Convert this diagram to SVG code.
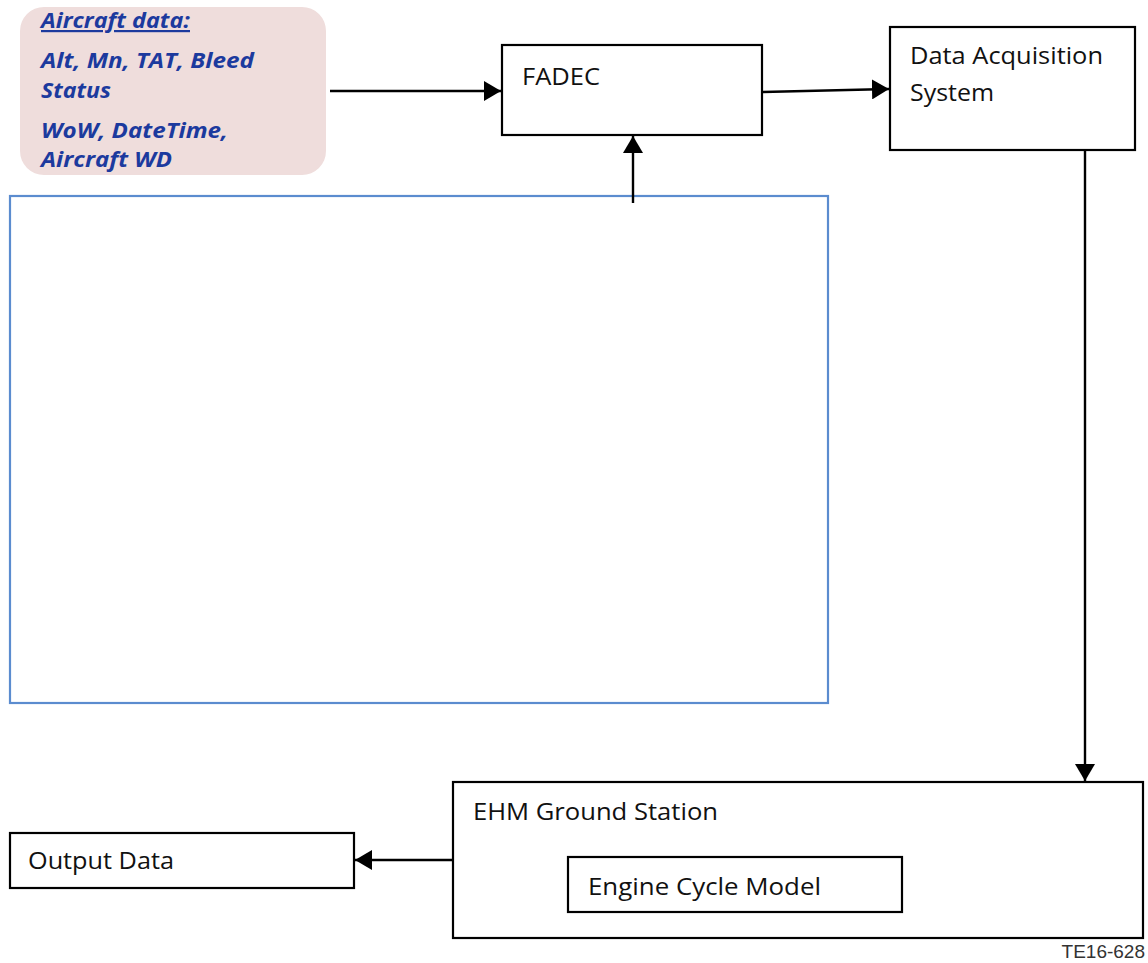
<svg xmlns="http://www.w3.org/2000/svg" width="1148" height="963" viewBox="0 0 1148 963">
  <style>
    .box { fill: #ffffff; stroke: #000000; stroke-width: 2.2; }
    .lbl { font-family: "Open Sans", "Liberation Sans", sans-serif; font-size: 24px; fill: #111111; }
    .ac { font-family: "Open Sans", "Liberation Sans", sans-serif; font-size: 22px; font-weight: bold; font-style: italic; fill: #1c3a9e; }
    .wire { fill: none; stroke: #000000; stroke-width: 2.4; }
  </style>
  <defs>
    <marker id="head" viewBox="0 0 17 20" refX="17" refY="10" markerWidth="17" markerHeight="20" markerUnits="userSpaceOnUse" orient="auto">
      <path d="M0,0 L17,10 L0,20 Z" fill="#000000"/>
    </marker>
  </defs>

  <rect width="1148" height="963" fill="#ffffff"/>

  <!-- aircraft inputs -->
  <g id="aircraft-data">
    <rect x="20" y="7" width="306" height="168" rx="24" ry="24" fill="#efdddc"/>
    <text class="ac" x="41" y="28" textLength="149" lengthAdjust="spacingAndGlyphs" text-decoration="underline">Aircraft data:</text>
    <text class="ac" x="41" y="68" textLength="213" lengthAdjust="spacingAndGlyphs">Alt, Mn, TAT, Bleed</text>
    <text class="ac" x="41" y="98" textLength="70" lengthAdjust="spacingAndGlyphs">Status</text>
    <text class="ac" x="41" y="138" textLength="187" lengthAdjust="spacingAndGlyphs">WoW, DateTime,</text>
    <text class="ac" x="41" y="167" textLength="131" lengthAdjust="spacingAndGlyphs">Aircraft WD</text>
  </g>

  <!-- engine controller -->
  <g id="fadec">
    <rect class="box" x="502" y="45" width="260" height="90"/>
    <text class="lbl" x="522" y="85" textLength="78" lengthAdjust="spacingAndGlyphs">FADEC</text>
  </g>

  <!-- data acquisition -->
  <g id="das">
    <rect class="box" x="890" y="27" width="245" height="123"/>
    <text class="lbl" x="910" y="64" textLength="193" lengthAdjust="spacingAndGlyphs">Data Acquisition</text>
    <text class="lbl" x="910" y="101" textLength="84" lengthAdjust="spacingAndGlyphs">System</text>
  </g>

  <!-- empty outlined panel -->
  <g id="panel">
    <rect x="10" y="196" width="818" height="507" fill="none" stroke="#5b8ccf" stroke-width="2.2"/>
  </g>

  <!-- ground station -->
  <g id="ground-station">
    <rect class="box" x="453" y="782" width="690" height="156"/>
    <text class="lbl" x="473" y="820" textLength="245" lengthAdjust="spacingAndGlyphs">EHM Ground Station</text>
  </g>

  <g id="engine-cycle-model">
    <rect class="box" x="568" y="857" width="334" height="55"/>
    <text class="lbl" x="588" y="895" textLength="233" lengthAdjust="spacingAndGlyphs">Engine Cycle Model</text>
  </g>

  <g id="output-data">
    <rect class="box" x="10" y="833" width="344" height="55"/>
    <text class="lbl" x="28" y="869" textLength="146" lengthAdjust="spacingAndGlyphs">Output Data</text>
  </g>

  <!-- connectors -->
  <g id="connectors">
    <line class="wire" x1="330" y1="91" x2="501" y2="91" marker-end="url(#head)"/>
    <line class="wire" x1="763" y1="92" x2="889" y2="89" marker-end="url(#head)"/>
    <line class="wire" x1="633" y1="203" x2="633" y2="136" marker-end="url(#head)"/>
    <line class="wire" x1="1085" y1="151" x2="1085" y2="781" marker-end="url(#head)"/>
    <line class="wire" x1="452" y1="860" x2="355" y2="860" marker-end="url(#head)"/>
  </g>

  <text x="1145" y="958" text-anchor="end" font-family="Liberation Sans, Arial, sans-serif" font-size="19" fill="#333333">TE16-628</text>
</svg>
